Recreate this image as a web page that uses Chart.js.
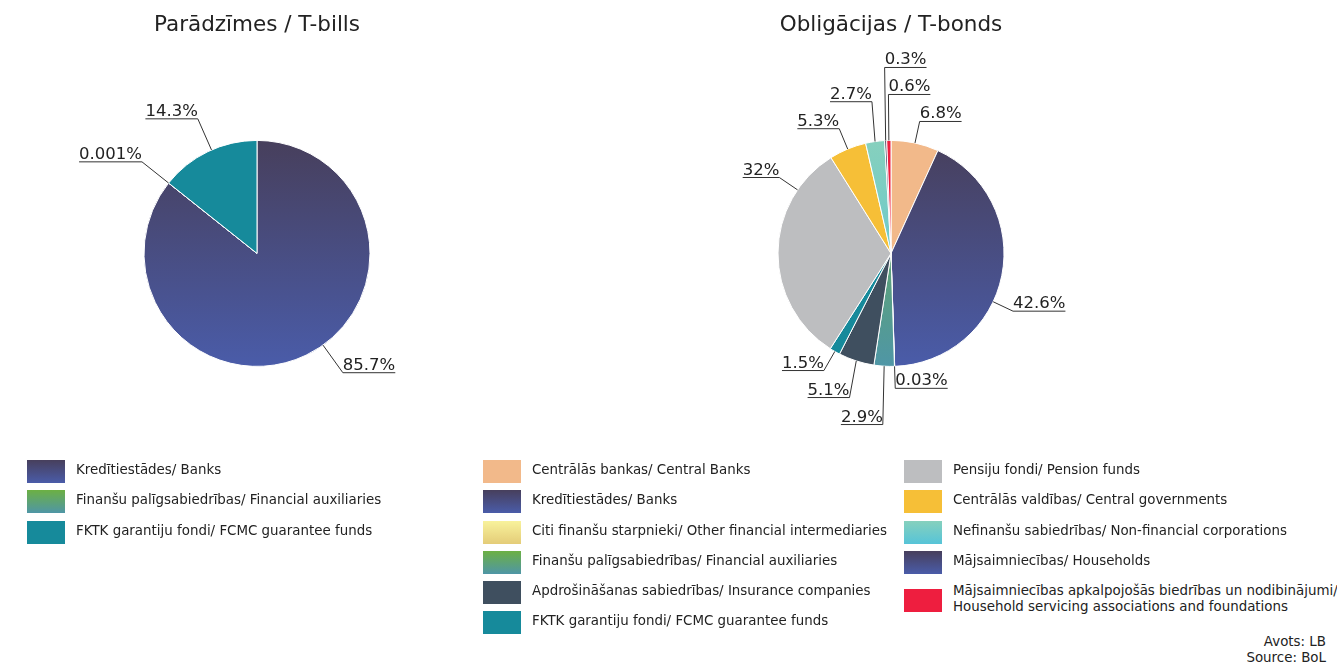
<!DOCTYPE html>
<html>
<head>
<meta charset="utf-8" />
<style>
  body { margin: 0; background: #fff; font-family: "DejaVu Sans", Verdana, sans-serif; color: #222; }
  #page { position: relative; width: 1337px; height: 662px; overflow: hidden; }
  .chartBox { position: absolute; top: 0; }
  .legend { position: absolute; top: 458px; font-size: 13.4px; }
  .legend .row { position: relative; height: 30.3px; }
  .legend .box { position: absolute; left: 0; top: 2px; width: 38px; height: 23px; }
  .legend .txt { position: absolute; left: 49px; top: 4px; white-space: nowrap; line-height: 16px; }
  .legend .row.wrap { height: 44px; }
  .legend .row.wrap .box { top: 10px; }
  .legend .row.wrap .txt { white-space: normal; width: 392px; }
  .source { position: absolute; right: 11px; top: 634px; text-align: right; font-size: 13.4px; line-height: 16px; color: #222; }
</style>
</head>
<body>
<div id="page">
    <div class="chartBox" style="left: 0px;"><canvas id="billsChart" width="514" height="480"></canvas></div>
    <div class="chartBox" style="left: 634px;"><canvas id="bondsChart" width="514" height="480"></canvas></div>
    <div class="legend" id="billsLegend" style="left: 27px;"></div>
    <div class="legend" id="bondsLegendA" style="left: 483px;"></div>
    <div class="legend" id="bondsLegendB" style="left: 904px;"></div>
    <div class="source">Avots: LB<br>Source: BoL</div>
</div>

<script src="https://cdn.jsdelivr.net/npm/chart.js"></script>
<script type="text/javascript">
    // Dati - parādzīmes
    var billTitle = 'Parādzīmes / T-bills';
    var billLabels = [
        'Kredītiestādes/ Banks',
        'Finanšu palīgsabiedrības/ Financial auxiliaries',
        'FKTK garantiju fondi/ FCMC guarantee funds'
    ];
    var billValues = [85.7, 0.001, 14.3];

    // Dati - obligācijas
    var bondTitle = 'Obligācijas / T-bonds';
    var bondLabels = [
        'Centrālās bankas/ Central Banks',
        'Kredītiestādes/ Banks',
        'Citi finanšu starpnieki/ Other financial intermediaries',
        'Finanšu palīgsabiedrības/ Financial auxiliaries',
        'Apdrošināšanas sabiedrības/ Insurance companies',
        'FKTK garantiju fondi/ FCMC guarantee funds',
        'Pensiju fondi/ Pension funds',
        'Centrālās valdības/ Central governments',
        'Nefinanšu sabiedrības/ Non-financial corporations',
        'Mājsaimniecības/ Households',
        'Mājsaimniecības apkalpojošās biedrības un nodibinājumi/ Household servicing associations and foundations'
    ];
    var bondValues = [6.8, 42.6, 0.03, 2.9, 5.1, 1.5, 32, 5.3, 2.7, 0.3, 0.6];

    // krāsas (divas vērtības = vertikāls gradients)
    var colBanks = ['#473f5c', '#4a5ca9'];
    var colAux = ['#6cb043', '#4f96a6'];
    var colFcmc = '#168a9b';
    var billColors = [colBanks, colAux, colFcmc];
    var bondColors = [
        '#f2b98a', colBanks, ['#f8f29c', '#e4cc78'], colAux, '#3f4f5f', colFcmc,
        '#bdbec0', '#f6bf37', ['#86d0bd', '#56c4d8'], colBanks, '#ee1e3f'
    ];

    var PIE_RADIUS = 113;
    var FONT = '"DejaVu Sans", Verdana, sans-serif';

    function sliceFill(colors) {
        return function (context) {
            var c = colors[context.dataIndex];
            if (!Array.isArray(c)) return c;
            var area = context.chart.chartArea;
            if (!area) return c[0];
            var cy = (area.top + area.bottom) / 2;
            var g = context.chart.ctx.createLinearGradient(0, cy - PIE_RADIUS, 0, cy + PIE_RADIUS);
            g.addColorStop(0, c[0]);
            g.addColorStop(1, c[1]);
            return g;
        };
    }

    // etiķetes ar līnijām
    var leaderLabels = {
        id: 'leaderLabels',
        afterDatasetsDraw: function (chart, args, opts) {
            var meta = chart.getDatasetMeta(0);
            var values = chart.data.datasets[0].data;
            var ctx = chart.ctx;
            var items = meta.data.map(function (arc, i) {
                var a = (arc.startAngle + arc.endAngle) / 2 + (opts.shift[i] || 0) * Math.PI / 180;
                var r = arc.outerRadius;
                var ky = arc.y + Math.sin(a) * (r + opts.ext);
                var right = Math.cos(a) > -opts.lean;
                // leņķis no pulksten 12, pulksteņrādītāja virzienā
                var deg = ((a + Math.PI / 2) * 180 / Math.PI + 360) % 360;
                var dist = right ? Math.abs((deg > 180 ? deg - 360 : deg) - 90) : Math.abs(deg - 270);
                return {
                    ex: arc.x + Math.cos(a) * r,
                    ey: arc.y + Math.sin(a) * r,
                    kx: arc.x + Math.cos(a) * (r + opts.ext),
                    ky: ky,
                    right: right,
                    top: ky < arc.y,
                    dist: dist,
                    text: values[i] + '%'
                };
            });
            // lai etiķetes nepārklājas
            [true, false].forEach(function (right) {
                [true, false].forEach(function (top) {
                    var g = items.filter(function (it) { return it.right === right && it.top === top; })
                        .sort(function (p, q) { return p.dist - q.dist; });
                    for (var j = 1; j < g.length; j++) {
                        if (top) g[j].ky = Math.min(g[j].ky, g[j - 1].ky - opts.gap);
                        else g[j].ky = Math.max(g[j].ky, g[j - 1].ky + opts.gap);
                    }
                });
            });
            ctx.save();
            ctx.font = '16.5px ' + FONT;
            ctx.lineWidth = 1;
            ctx.strokeStyle = '#333';
            ctx.fillStyle = '#222';
            ctx.textBaseline = 'alphabetic';
            items.forEach(function (it) {
                var w = ctx.measureText(it.text).width;
                var endX = it.right ? it.kx + w : it.kx - w;
                ctx.beginPath();
                ctx.moveTo(it.ex, it.ey);
                ctx.lineTo(it.kx, it.ky);
                ctx.lineTo(endX, it.ky);
                ctx.stroke();
                ctx.textAlign = it.right ? 'left' : 'right';
                ctx.fillText(it.text, it.kx, it.ky - 3);
            });
            ctx.restore();
        }
    };

    function makePie(id, title, labels, values, colors, labelOpts) {
        return new Chart(document.getElementById(id), {
            type: 'pie',
            data: {
                labels: labels,
                datasets: [{
                    data: values,
                    backgroundColor: sliceFill(colors),
                    borderColor: '#ffffff',
                    borderWidth: 1
                }]
            },
            options: {
                responsive: false,
                animation: false,
                radius: PIE_RADIUS,
                layout: { padding: { top: 0, bottom: 12, left: 0, right: 0 } },
                plugins: {
                    legend: { display: false },
                    tooltip: { enabled: false },
                    title: {
                        display: true,
                        text: title,
                        color: '#222',
                        font: { family: FONT, size: 21.5, weight: 'normal' },
                        padding: { top: 13, bottom: 0 }
                    },
                    leaderLabels: labelOpts
                }
            },
            plugins: [leaderLabels]
        });
    }

    makePie('billsChart', billTitle, billLabels, billValues, billColors,
        { ext: 34, gap: 26, lean: 0.05, shift: [-10, 0, 2] });
    makePie('bondsChart', bondTitle, bondLabels, bondValues, bondColors,
        { ext: 22, gap: 27, lean: 0.05, shift: [0, 14, 0, 0, 0, 0, 34, 0, 0, 0, 0] });

    // leģendas
    function cssFill(c) {
        return Array.isArray(c) ? 'linear-gradient(to bottom, ' + c[0] + ', ' + c[1] + ')' : c;
    }
    function buildLegend(id, labels, colors) {
        var el = document.getElementById(id);
        labels.forEach(function (text, i) {
            var row = document.createElement('div');
            row.className = 'row' + (text.length > 70 ? ' wrap' : '');
            var box = document.createElement('div');
            box.className = 'box';
            box.style.background = cssFill(colors[i]);
            var txt = document.createElement('div');
            txt.className = 'txt';
            txt.textContent = text;
            row.appendChild(box);
            row.appendChild(txt);
            el.appendChild(row);
        });
    }
    buildLegend('billsLegend', billLabels, billColors);
    buildLegend('bondsLegendA', bondLabels.slice(0, 6), bondColors.slice(0, 6));
    buildLegend('bondsLegendB', bondLabels.slice(6), bondColors.slice(6));
</script>
</body>
</html>
